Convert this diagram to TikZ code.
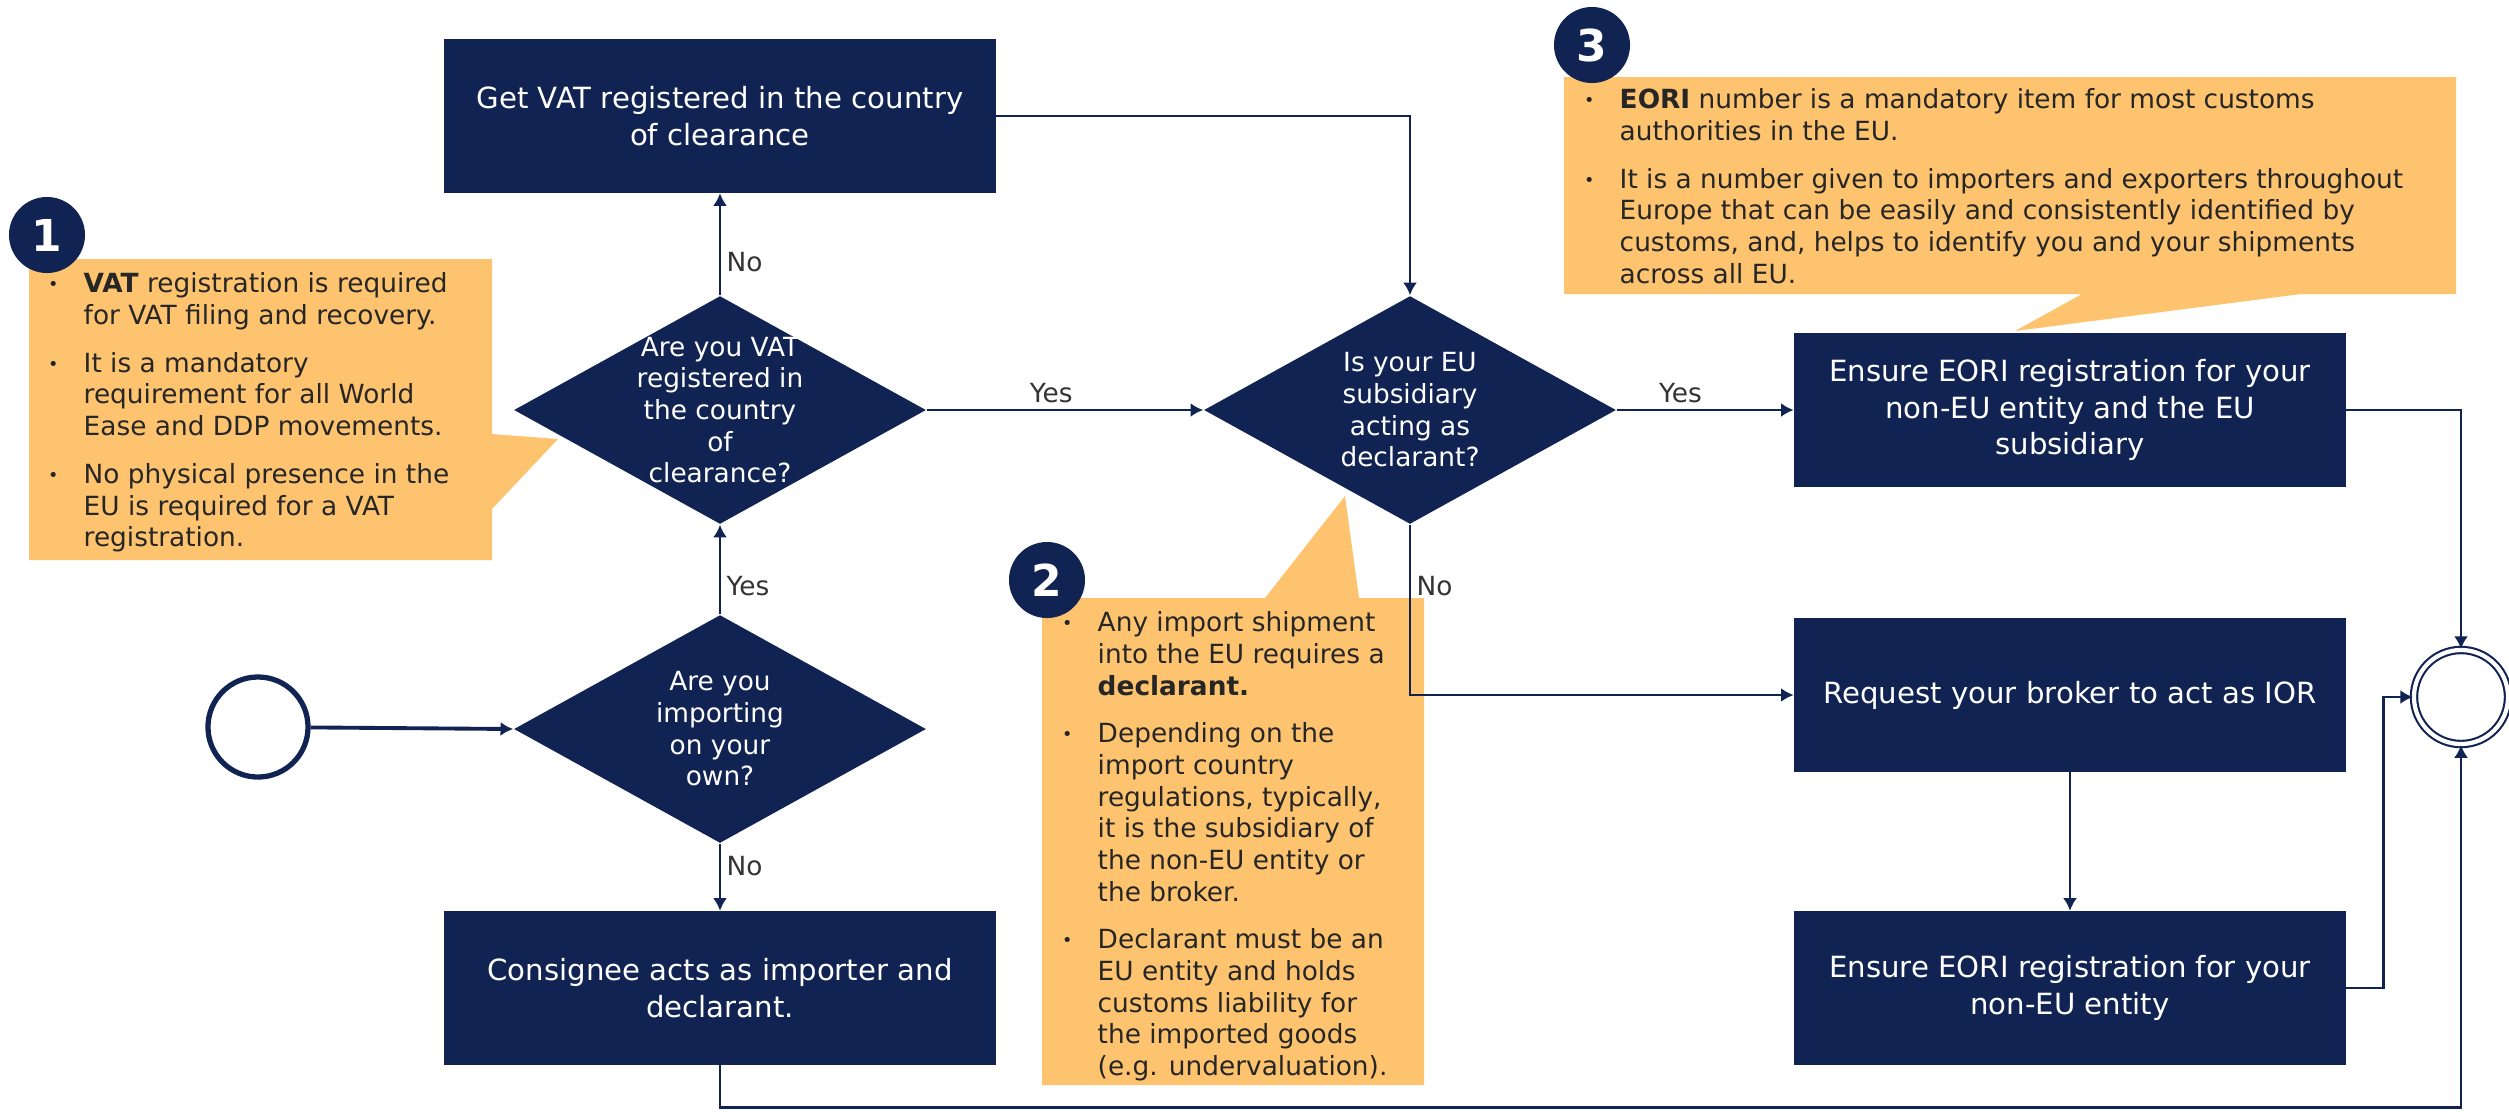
\documentclass[tikz,border=0pt]{standalone}
\usepackage{fontspec}
\setmainfont{DejaVu Sans}
\usetikzlibrary{shapes.geometric,arrows.meta}
\definecolor{navy}{HTML}{112352}
\definecolor{note}{HTML}{FDC36F}
\newcommand{\bitem}{\makebox[0.39cm][l]{\hspace{1pt}\raisebox{0.6pt}{\fontsize{5}{9}\selectfont\textbullet}}}
\newcommand{\cont}{\hspace*{0.39cm}}

\begin{document}
\begin{tikzpicture}[x=0.01cm, y=-0.01cm]
  \tikzset{
    process/.style={rectangle, fill=navy, text=white, minimum width=5.51cm, minimum height=1.53cm, align=center, font=\fontsize{8.3}{10.5}\selectfont},
    decision/.style={diamond, fill=navy, text=white, shape aspect=1.8, minimum width=4.12cm, minimum height=2.28cm, inner sep=-5pt, align=center, font=\fontsize{7.5}{9}\selectfont},
    terminal/.style={circle, draw=navy, minimum size=1cm, inner sep=0pt},
    badge/.style={circle, fill=navy, text=white, minimum size=0.76cm, inner sep=0pt, font=\fontsize{12.5}{14}\selectfont\bfseries},
    notetext/.style={anchor=north west, inner sep=0pt, align=left, text=black!85, font=\fontsize{7.5}{9}\selectfont},
    flow/.style={draw=navy, line width=0.8pt, -{Latex[length=3.6pt,width=4pt]}},
    lbl/.style={text=black!80, inner sep=1.5pt, font=\fontsize{7.5}{9}\selectfont}
  }
  \useasboundingbox (0,0) rectangle (2509,1111);

  % notes
  \fill[note] (29,259) -- (492,259) -- (492,434) -- (558,439) -- (492,509) -- (492,560) -- (29,560) -- cycle;
  \fill[note] (1042,598) -- (1265,598) -- (1345,496) -- (1359,598) -- (1424,598) -- (1424,1085) -- (1042,1085) -- cycle;
  \fill[note] (1564,77) -- (2456,77) -- (2456,294) -- (2301,294) -- (2015,331) -- (2082,294) -- (1564,294) -- cycle;

  \node[notetext] (note1) at (44,272) {\bitem\textbf{VAT} registration is required\\\cont for VAT filing and recovery.\\[4.6pt]
    \bitem It is a mandatory\\\cont requirement for all World\\\cont Ease and DDP movements.\\[4.6pt]
    \bitem No physical presence in the\\\cont EU is required for a VAT\\\cont registration.};
  \node[notetext] (note2) at (1058,611) {\bitem Any import shipment\\\cont into the EU requires a\\\cont\textbf{declarant.}\\[4.6pt]
    \bitem Depending on the\\\cont import country\\\cont regulations, typically,\\\cont it is the subsidiary of\\\cont the non-EU entity or\\\cont the broker.\\[4.6pt]
    \bitem Declarant must be an\\\cont EU entity and holds\\\cont customs liability for\\\cont the imported goods\\\cont (e.g. undervaluation).};
  \node[notetext] (note3) at (1580,88) {\bitem\textbf{EORI} number is a mandatory item for most customs\\\cont authorities in the EU.\\[4.6pt]
    \bitem It is a number given to importers and exporters throughout\\\cont Europe that can be easily and consistently identified by\\\cont customs, and, helps to identify you and your shipments\\\cont across all EU.};

  \node[badge] (badge1) at (47,235) {1};
  \node[badge] (badge2) at (1047,580) {2};
  \node[badge] (badge3) at (1592,45) {3};

  % flow
  \node[terminal, line width=1.5pt] (start) at (258,727) {};
  \node[decision] (d0) at (720,729) {Are you\\importing\\on your\\own?};
  \node[decision] (d1) at (720,410) {Are you VAT\\registered in\\the country\\of\\clearance?};
  \node[process] (a) at (720,116) {Get VAT registered in the country\\of clearance};
  \node[process] (c) at (720,988) {Consignee acts as importer and\\declarant.};
  \node[decision] (d2) at (1410,410) {Is your EU\\subsidiary\\acting as\\declarant?};
  \node[process] (e1) at (2070,410) {Ensure EORI registration for your\\non-EU entity and the EU\\subsidiary};
  \node[process] (r) at (2070,695) {Request your broker to act as IOR};
  \node[process] (e2) at (2070,988) {Ensure EORI registration for your\\non-EU entity};
  \node[terminal, double, double distance=1.2pt, line width=0.6pt, minimum size=0.94cm] (stop) at (2461,697) {};

  \draw[flow, line width=1.1pt] (start) -- (d0.west);
  \draw[flow] (d0.north) -- node[lbl, right, pos=0.32] {Yes} (d1.south);
  \draw[flow] (d0.south) -- node[lbl, right, pos=0.33] {No} (c.north);
  \draw[flow] (d1.north) -- node[lbl, right, pos=0.33] {No} (a.south);
  \draw[flow] (d1.east) -- node[lbl, above, pos=0.45] {Yes} (d2.west);
  \draw[flow] (a.east) -| (d2.north);
  \draw[flow] (d2.east) -- node[lbl, above, pos=0.36] {Yes} (e1.west);
  \draw[flow] (d2.south) |- node[lbl, right, pos=0.18] {No} (r.west);
  \draw[flow] (r.south) -- (e2.north);
  \draw[flow] (e1.east) -| (stop.north);
  \draw[flow] (e2.east) -- ++(37,0) |- (stop.west);
  \draw[flow] (c.south) -- ++(0,42) -| (stop.south);
\end{tikzpicture}
\end{document}
